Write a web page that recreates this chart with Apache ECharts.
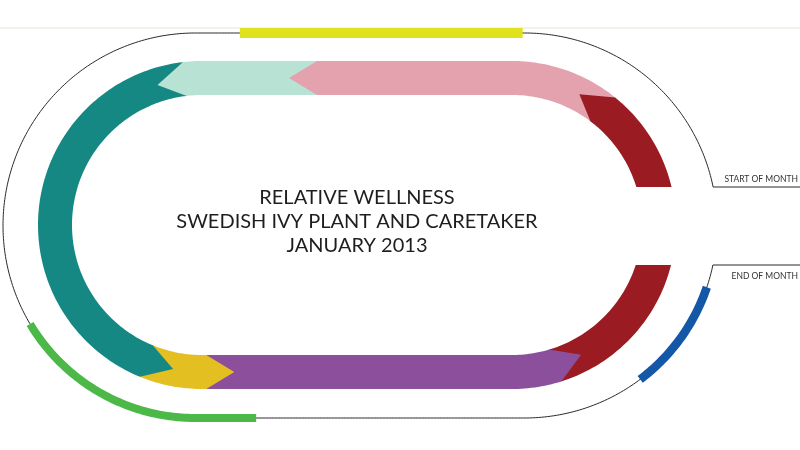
<!DOCTYPE html>
<html lang="en">
<head>
    <meta charset="UTF-8">
    <title>Relative Wellness</title>
    <script src="https://cdn.jsdelivr.net/npm/echarts@6/dist/echarts.min.js"></script>
    <style>
        body { margin: 0; background-color: #fff; }
        #main { width: 800px; height: 450px; }
    </style>
</head>
<body>
    <div id="main"></div>
    <script type="text/javascript">
        // days of the month, plant (inner arrows)
        var monthDays = 31;
        var plantStart = [0, 2.0, 8.2, 11.0, 19.2, 20.5, 27.9];
        var plantEnd = [2.0, 8.2, 11.0, 19.2, 20.5, 27.9, 31];
        var plantColors = ['#9b1b22', '#e4a1ae', '#b8e2d4', '#158884', '#e3bf22', '#8b4f9c', '#9b1b22'];

        // caretaker (bars on outer track)
        var carerStart = [4.6, 17.3, 28.6];
        var carerEnd = [9.5, 21.8, 30.6];
        var carerColors = ['#dfe21c', '#4cb848', '#1357a6'];
        var carerWidths = [10, 8, 8.5];

        var titleLines = ['RELATIVE WELLNESS', 'SWEDISH IVY PLANT AND CARETAKER', 'JANUARY 2013'];

        // racetrack shape: two half circles joined by straights, open on the right
        function makeTrack(cxL, cxR, cy, r, dyS, dyE) {
            var a0 = Math.asin(-dyS / r), a1 = Math.asin(dyE / r);
            var L1 = r * (Math.PI / 2 - a0), L2 = cxR - cxL, L3 = Math.PI * r, L5 = r * (Math.PI / 2 - a1);
            var total = L1 + L2 + L3 + L2 + L5;
            function pt(s, off) {
                var p = r + off, c, th;
                if (s <= L1) {
                    c = Math.asin(-dyS / p);
                    th = c + (Math.max(s, 0) / L1) * (Math.PI / 2 - c);
                    return [cxR + p * Math.cos(th), cy - p * Math.sin(th)];
                }
                s -= L1;
                if (s <= L2) return [cxR - s, cy - p];
                s -= L2;
                if (s <= L3) {
                    th = Math.PI / 2 + s / r;
                    return [cxL + p * Math.cos(th), cy - p * Math.sin(th)];
                }
                s -= L3;
                if (s <= L2) return [cxL + s, cy + p];
                s -= L2;
                c = Math.asin(dyE / p);
                th = -Math.PI / 2 + Math.min(s / L5, 1) * (Math.PI / 2 - c);
                return [cxR + p * Math.cos(th), cy - p * Math.sin(th)];
            }
            return { pt: pt, total: total };
        }

        var inner = makeTrack(202, 512, 225, 147, -38, 40);
        var outer = makeTrack(195.5, 524.5, 225.5, 192.5, -38.5, 39.5);
        var halfW = 17, tipLen = 28;

        function sample(track, s0, s1, off) {
            var pts = [], n = Math.max(2, Math.ceil(Math.abs(s1 - s0) / 3));
            for (var i = 0; i <= n; i++) pts.push(track.pt(s0 + (s1 - s0) * i / n, off));
            return pts;
        }

        // earlier arrows drawn last so their heads sit over the next one
        var plantData = [];
        for (var i = plantStart.length - 1; i >= 0; i--) {
            plantData.push([plantStart[i], plantEnd[i], i]);
        }
        var carerData = carerStart.map(function (v, i) { return [v, carerEnd[i], i]; });

        var myChart = echarts.init(document.getElementById('main'));

        var option = {
            backgroundColor: '#fff',
            animation: false,
            graphic: [{
                type: 'line',
                shape: { x1: 0, y1: 28, x2: 800, y2: 28 },
                style: { stroke: '#ece3dc', lineWidth: 1 },
                z: 0
            }, {
                type: 'text',
                x: 357,
                y: 222,
                style: {
                    text: titleLines.join('\n'),
                    fontSize: 20,
                    fontFamily: 'Lato',
                    lineHeight: 24,
                    fill: '#1e1e1e',
                    align: 'center',
                    verticalAlign: 'middle',
                    textAlign: 'center',
                    textVerticalAlign: 'middle'
                }
            }],
            series: [{
                // outer track line with start / end leads
                type: 'custom',
                coordinateSystem: 'none',
                data: [[0, monthDays]],
                silent: true,
                renderItem: function (params, api) {
                    var line = sample(outer, 0, outer.total, 0);
                    var first = line[0], last = line[line.length - 1];
                    var w = api.getWidth();
                    return {
                        type: 'group',
                        children: [{
                            type: 'polyline',
                            shape: { points: [[w, first[1]]].concat(line, [[w, last[1]]]) },
                            style: { stroke: '#2a2a2a', lineWidth: 1, fill: null }
                        }, {
                            type: 'text',
                            style: {
                                text: 'START OF MONTH', x: w - 2, y: first[1] - 8,
                                fontSize: 8.5, fontFamily: 'Lato', fill: '#333',
                                align: 'right', verticalAlign: 'middle'
                            }
                        }, {
                            type: 'text',
                            style: {
                                text: 'END OF MONTH', x: w - 2, y: last[1] + 11,
                                fontSize: 8.5, fontFamily: 'Lato', fill: '#333',
                                align: 'right', verticalAlign: 'middle'
                            }
                        }]
                    };
                }
            }, {
                // plant wellness arrows
                type: 'custom',
                coordinateSystem: 'none',
                data: plantData,
                silent: true,
                renderItem: function (params, api) {
                    var s0 = api.value(0) / monthDays * inner.total;
                    var s1 = api.value(1) / monthDays * inner.total;
                    var idx = api.value(2);
                    var pts = sample(inner, s0, s1, halfW);
                    if (s1 < inner.total - 0.01) pts.push(inner.pt(s1 + tipLen, 0));
                    pts = pts.concat(sample(inner, s1, s0, -halfW));
                    return {
                        type: 'polygon',
                        shape: { points: pts },
                        style: { fill: plantColors[idx], stroke: null }
                    };
                }
            }, {
                // caretaker wellness bars
                type: 'custom',
                coordinateSystem: 'none',
                data: carerData,
                silent: true,
                renderItem: function (params, api) {
                    var s0 = api.value(0) / monthDays * outer.total;
                    var s1 = api.value(1) / monthDays * outer.total;
                    var idx = api.value(2);
                    return {
                        type: 'polyline',
                        shape: { points: sample(outer, s0, s1, 0) },
                        style: { stroke: carerColors[idx], lineWidth: carerWidths[idx], fill: null, lineCap: 'butt' }
                    };
                }
            }]
        };

        myChart.setOption(option);
    </script>
</body>
</html>
